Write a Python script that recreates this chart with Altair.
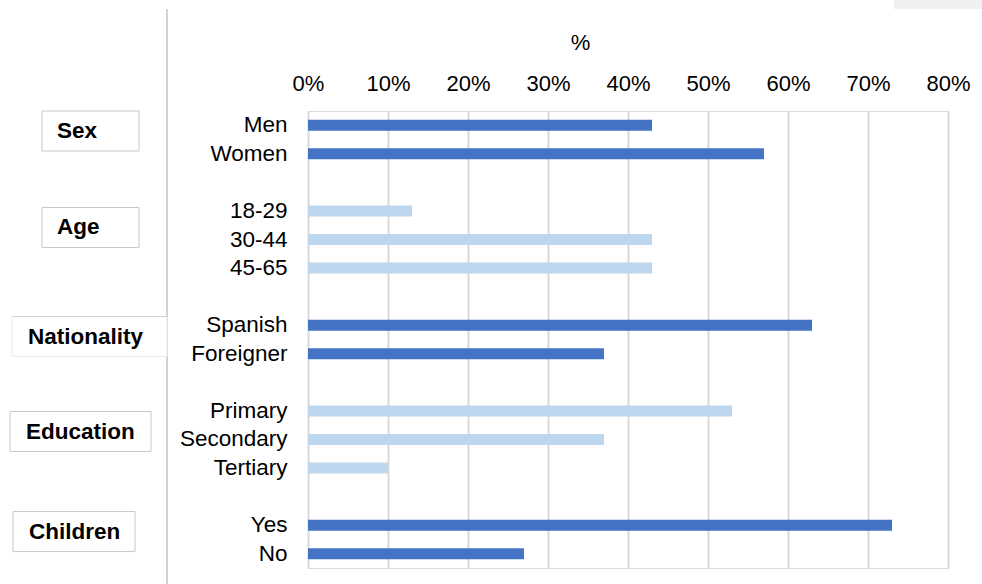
import altair as alt
import pandas as pd

# ---- data ----
groups = ["Sex", "Age", "Nationality", "Education", "Children"]
sex_labels = ["Men", "Women"]
sex_values = [0.43, 0.57]
age_labels = ["18-29", "30-44", "45-65"]
age_values = [0.13, 0.43, 0.43]
nat_labels = ["Spanish", "Foreigner"]
nat_values = [0.63, 0.37]
edu_labels = ["Primary", "Secondary", "Tertiary"]
edu_values = [0.53, 0.37, 0.10]
chi_labels = ["Yes", "No"]
chi_values = [0.73, 0.27]
x_ticks = [0.0, 0.1, 0.2, 0.3, 0.4, 0.5, 0.6, 0.7, 0.8]

group_labels = [sex_labels, age_labels, nat_labels, edu_labels, chi_labels]
group_values = [sex_values, age_values, nat_values, edu_values, chi_values]

# ---- build tables ----
rows = []
order = []
for gi, (g, labs, vals) in enumerate(zip(groups, group_labels, group_values)):
    if gi > 0:
        order.append(" " * gi)  # blank spacer row between groups
    for lab, v in zip(labs, vals):
        rows.append({"label": lab, "value": v, "group": g})
        order.append(lab)
bars_df = pd.DataFrame(rows)
anchor_df = pd.DataFrame({"group": groups, "label": [labs[0] for labs in group_labels]})

DARK = "#4472C4"
LIGHT = "#BDD7EE"
FONT = "Liberation Sans"

yscale = alt.Scale(domain=order, paddingInner=0, paddingOuter=0)
yaxis = alt.Axis(
    title=None, domain=False, ticks=False, tickSize=0, labelPadding=21,
    labelFontSize=22.5, labelColor="#000000", labelFont=FONT, grid=False,
)

bars = alt.Chart(bars_df).mark_bar(height=11).encode(
    x=alt.X(
        "value:Q",
        scale=alt.Scale(domain=[0, 0.8], nice=False),
        axis=alt.Axis(
            orient="top", format=".0%", values=x_ticks, title="%",
            domain=False, ticks=False, tickSize=0, labelPadding=16,
            labelFlush=False, labelOverlap=False,
            labelFontSize=22, labelColor="#000000", labelFont=FONT,
            grid=True, gridColor="#D9D9D9", gridWidth=2,
            titleFontSize=22, titleFontWeight="normal", titleColor="#000000",
            titleFont=FONT, titleX=272, titleY=-69, titleBaseline="middle",
            titleAlign="center", titleAnchor="start",
        ),
    ),
    y=alt.Y("label:N", scale=yscale, axis=yaxis),
    color=alt.Color("group:N", scale=alt.Scale(domain=groups, range=[DARK, LIGHT, DARK, LIGHT, DARK]), legend=None),
)

# decorations: separator line and top-right grey block
sep = alt.Chart(anchor_df).mark_rule(color="#D0D0D0", strokeWidth=1).encode(
    x=alt.value(-141), y=alt.value(-102), y2=alt.value(473)
)
corner = alt.Chart(anchor_df).mark_rect(color="#F0F0F0").encode(
    x=alt.value(586), x2=alt.value(674), y=alt.value(-111), y2=alt.value(-102)
)

# layout of the group boxes (pixels relative to plot area): left, right, text-left, vertical offset, stroke
box_layout = {
    "Sex": (-266, -169, -251, 5.7, "#C8C8C8"),
    "Age": (-266, -169, -251, 16.5, "#C8C8C8"),
    "Nationality": (-296, -141, -280, 11.3, "#EBEBEB"),
    "Education": (-298, -157, -282, 20.6, "#C8C8C8"),
    "Children": (-295, -173, -279, 6.4, "#C8C8C8"),
}

layers = [sep, corner, bars]
for g in groups:
    xl, xr, xt, dy, stroke = box_layout[g]
    sub = alt.Chart(anchor_df).transform_filter(alt.datum.group == g)
    box = sub.mark_bar(height=40, yOffset=dy, fill="white", stroke=stroke, strokeWidth=1).encode(
        x=alt.value(xl), x2=alt.value(xr),
        y=alt.Y("label:N", scale=yscale, axis=yaxis),
    )
    txt = sub.mark_text(align="left", baseline="middle", fontSize=22.5, fontWeight="bold",
                        font=FONT, color="#000000", yOffset=dy).encode(
        x=alt.value(xt),
        y=alt.Y("label:N", scale=yscale, axis=yaxis),
        text="group:N",
    )
    layers += [box, txt]
    if g == "Nationality":
        top = sub.mark_rule(color="#D0D0D0", strokeWidth=1, yOffset=dy - 20).encode(
            x=alt.value(xl), x2=alt.value(xr),
            y=alt.Y("label:N", scale=yscale, axis=yaxis),
        )
        layers.append(top)

chart = alt.layer(*layers).properties(
    width=640, height=457,
    autosize=alt.AutoSizeParams(type="none"),
    padding={"left": 308, "top": 111, "right": 34, "bottom": 16},
).configure_view(stroke=None).configure(background="white")

chart.save("out.html", embed_options={"renderer": "svg", "actions": False})
